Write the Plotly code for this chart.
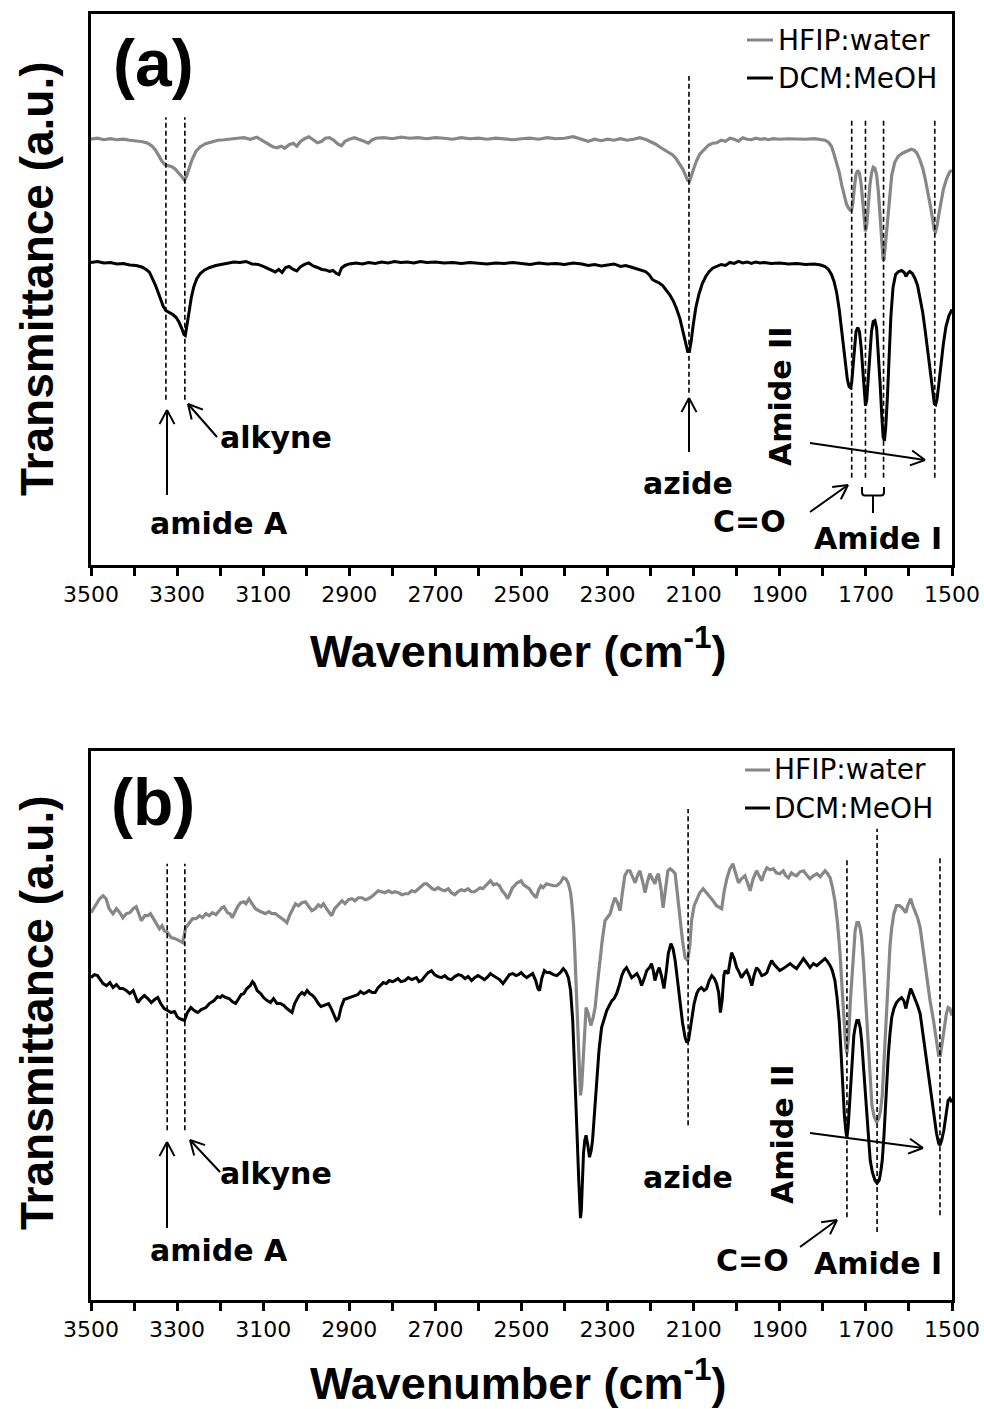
import math
import plotly.graph_objects as go

W, H = 984, 1409

# ---------------- data: panel (a) ----------------
a_hfip_wn = [3500,3485,3470,3455,3440,3425,3410,3395,3380,3368,3358,3350,3342,3335,3328,3320,3312,3304,3296,3289,3283,3278,3272,3265,3256,3246,3234,3220,3205,3190,3175,3160,3145,3130,3115,3100,3088,3078,3068,3058,3050,3040,3030,3022,3014,3004,2994,2984,2974,2964,2956,2946,2936,2926,2918,2910,2900,2888,2876,2866,2856,2848,2838,2820,2800,2780,2760,2740,2720,2700,2680,2660,2640,2620,2600,2580,2560,2540,2520,2500,2480,2460,2440,2420,2400,2380,2360,2345,2330,2315,2300,2285,2270,2255,2240,2225,2210,2198,2188,2178,2168,2158,2148,2140,2132,2125,2119,2114,2110,2106,2101,2094,2086,2076,2066,2056,2046,2036,2026,2016,2006,1996,1986,1976,1966,1956,1946,1936,1926,1916,1900,1880,1860,1840,1820,1805,1795,1787,1780,1774,1768,1762,1756,1750,1745,1740,1736,1733,1730,1727,1723,1719,1715,1711,1707,1704,1701,1698,1695,1691,1687,1683,1679,1675,1671,1667,1663,1660,1658,1655,1651,1646,1640,1633,1625,1615,1605,1595,1588,1582,1575,1568,1562,1556,1550,1545,1541,1538,1535,1531,1526,1520,1513,1506,1500]
a_hfip_t = [85.0,85.2,84.9,85.1,84.9,85.0,84.8,84.7,84.5,84.2,83.6,82.8,81.6,80.6,79.9,79.7,79.5,79.0,78.3,77.5,76.8,77.6,79.2,81.0,82.6,83.5,84.1,84.5,84.8,84.9,85.1,85.2,85.3,85.0,85.4,84.6,84.0,83.5,83.3,83.6,83.2,83.9,84.2,83.6,84.5,85.1,85.5,84.8,84.3,84.6,85.2,85.3,84.8,84.0,83.7,84.6,85.0,85.3,85.0,84.6,84.2,84.8,85.2,85.3,85.1,85.4,85.2,85.3,85.1,85.3,85.2,85.0,85.3,85.1,85.2,85.0,85.2,85.1,84.9,85.1,85.2,85.0,85.3,85.1,85.2,85.5,84.9,84.6,85.0,84.7,85.0,84.8,85.1,84.8,85.0,85.3,84.9,84.4,84.0,83.4,82.9,82.4,81.8,81.0,80.0,79.0,77.8,76.8,76.6,77.6,78.8,80.6,82.0,83.0,83.8,84.2,84.3,84.8,84.6,85.2,85.0,84.6,85.3,85.0,84.9,85.2,85.0,85.1,84.9,85.1,85.0,85.1,85.0,85.0,85.1,84.9,84.8,84.4,83.6,82.0,80.4,78.4,75.8,73.6,72.0,71.2,70.8,70.9,72.4,75.2,78.0,78.8,78.2,76.0,72.0,68.6,66.6,67.8,71.5,75.6,78.2,79.4,79.2,77.8,74.5,69.5,64.0,61.0,60.8,63.6,67.5,73.5,77.8,80.4,81.6,82.2,82.6,83.0,82.8,82.3,81.0,79.2,77.0,74.6,71.6,69.0,66.8,66.6,67.6,69.8,72.6,75.0,77.0,78.4,78.8]

a_dcm_wn = [3500,3485,3470,3455,3440,3425,3410,3395,3382,3372,3364,3357,3350,3344,3338,3332,3326,3318,3310,3302,3295,3289,3284,3281,3277,3272,3267,3261,3254,3246,3236,3224,3210,3196,3182,3168,3154,3140,3126,3112,3100,3090,3080,3072,3064,3056,3048,3040,3030,3022,3014,3004,2994,2984,2974,2964,2955,2946,2938,2930,2924,2918,2910,2900,2885,2870,2855,2840,2825,2810,2795,2780,2765,2750,2735,2720,2700,2680,2660,2640,2620,2600,2580,2560,2540,2520,2500,2480,2460,2440,2420,2400,2380,2360,2345,2330,2315,2300,2285,2270,2258,2246,2234,2222,2212,2203,2196,2188,2180,2172,2164,2156,2148,2140,2132,2125,2119,2114,2110,2106,2101,2095,2088,2080,2072,2064,2055,2046,2036,2026,2016,2006,1996,1986,1976,1966,1956,1946,1936,1920,1900,1880,1860,1840,1820,1805,1795,1787,1780,1774,1768,1762,1757,1752,1747,1743,1739,1736,1733,1730,1727,1723,1719,1715,1711,1707,1704,1701,1698,1695,1691,1687,1683,1679,1675,1671,1667,1663,1660,1657,1654,1650,1646,1642,1637,1631,1624,1617,1611,1607,1603,1598,1592,1586,1580,1574,1568,1562,1556,1550,1545,1541,1538,1535,1531,1526,1520,1514,1507,1500]
a_dcm_t = [60.4,60.6,60.3,60.4,60.1,60.2,59.9,59.8,59.5,59.0,58.4,57.2,55.8,54.4,52.8,51.6,50.8,50.4,50.0,49.4,48.4,47.2,46.0,45.8,47.6,50.6,53.4,55.6,57.2,58.2,58.9,59.4,59.8,60.0,60.2,60.5,60.4,60.6,60.1,60.0,59.6,59.2,58.7,58.5,59.0,58.4,59.4,59.6,59.0,58.7,59.5,60.0,60.3,59.7,59.4,59.0,58.9,58.6,58.8,58.2,58.0,59.3,59.8,60.1,60.3,60.1,60.4,60.2,60.5,60.3,60.6,60.4,60.5,60.3,60.6,60.4,60.5,60.3,60.4,60.2,60.4,60.3,60.1,60.3,60.2,60.4,60.2,60.0,60.3,60.1,60.2,60.0,60.3,60.1,59.8,60.0,59.7,59.9,60.1,59.6,59.8,59.5,59.2,58.9,58.6,57.9,57.0,56.6,56.3,55.8,55.0,54.0,52.8,51.2,49.2,46.8,44.2,42.6,42.6,44.6,48.0,51.4,54.0,56.2,57.6,58.6,59.3,59.6,60.0,59.8,60.4,60.2,60.6,60.3,60.5,60.2,60.5,60.3,60.4,60.2,60.3,60.1,60.2,60.0,60.1,59.9,59.6,59.0,58.0,56.6,54.4,51.0,47.2,43.0,39.4,37.0,35.6,35.4,36.4,39.6,43.4,46.6,47.4,46.6,43.4,38.4,34.2,31.8,33.0,37.2,42.6,46.6,48.6,48.8,47.2,42.6,36.2,29.6,25.6,24.8,27.4,33.6,41.6,49.6,55.4,58.0,58.6,58.8,58.4,57.6,58.2,58.6,58.2,57.2,55.8,53.4,50.4,46.6,42.4,37.8,34.4,32.2,32.0,33.0,35.8,40.2,44.2,47.6,49.8,51.0]

# ---------------- data: panel (b) ----------------
b_hfip_wn = [3500,3490,3480,3472,3465,3458,3449,3441,3433,3426,3418,3410,3402,3395,3389,3383,3375,3368,3362,3356,3348,3341,3335,3330,3322,3314,3304,3295,3287,3280,3272,3264,3256,3248,3241,3233,3226,3218,3210,3202,3196,3191,3183,3177,3172,3164,3158,3152,3145,3140,3133,3126,3118,3110,3102,3095,3087,3080,3072,3064,3056,3050,3045,3038,3032,3025,3018,3010,3002,2995,2987,2979,2972,2966,2960,2953,2947,2941,2934,2927,2921,2917,2910,2902,2894,2887,2879,2871,2863,2856,2848,2840,2833,2825,2817,2809,2801,2794,2786,2778,2770,2763,2755,2747,2740,2732,2726,2720,2713,2707,2701,2694,2686,2678,2670,2663,2655,2648,2640,2632,2624,2617,2609,2602,2596,2590,2583,2577,2572,2565,2558,2551,2545,2539,2532,2526,2521,2516,2510,2505,2501,2495,2489,2482,2476,2470,2466,2460,2455,2450,2442,2434,2426,2418,2410,2403,2397,2391,2386,2383,2379,2376,2372,2368,2365,2363,2360,2356,2353,2350,2345,2339,2334,2329,2324,2318,2312,2306,2300,2294,2289,2283,2277,2271,2266,2260,2254,2248,2242,2236,2230,2225,2219,2213,2208,2202,2196,2190,2186,2182,2176,2171,2166,2160,2155,2149,2143,2138,2132,2126,2120,2114,2109,2105,2099,2093,2086,2078,2070,2062,2055,2047,2041,2035,2029,2023,2016,2009,2003,1996,1989,1981,1975,1969,1962,1954,1948,1942,1936,1930,1923,1915,1908,1900,1892,1886,1880,1873,1867,1861,1853,1845,1838,1830,1822,1814,1806,1800,1795,1789,1783,1778,1772,1766,1760,1755,1751,1747,1744,1740,1736,1733,1729,1725,1721,1717,1713,1710,1706,1702,1698,1694,1690,1686,1681,1675,1670,1666,1662,1658,1655,1652,1648,1644,1640,1635,1629,1622,1616,1611,1607,1603,1599,1596,1591,1586,1580,1574,1567,1559,1551,1543,1536,1531,1527,1522,1518,1513,1509,1505,1500]
b_hfip_t = [77.6,79.0,80.4,81.0,80.4,78.4,77.4,78.4,77.6,76.6,77.4,77.6,78.4,78.8,77.2,76.0,77.0,77.0,77.4,76.6,75.6,74.4,75.0,74.0,73.6,72.6,72.4,72.0,71.6,74.6,75.6,76.4,76.4,77.0,76.6,77.4,77.0,77.6,77.2,78.0,78.6,78.8,77.6,77.4,76.6,78.0,79.0,79.6,79.8,79.4,80.4,79.4,78.4,78.0,77.6,77.4,77.8,77.4,77.4,76.8,76.4,76.0,75.6,77.2,78.4,79.4,79.0,79.6,79.8,79.0,78.0,78.4,79.2,78.8,79.4,78.4,77.6,77.0,78.4,79.0,79.6,80.0,79.4,80.2,80.4,80.0,80.6,80.6,80.2,80.4,80.8,81.4,82.0,81.8,81.6,82.0,81.6,81.8,81.6,81.2,81.4,81.4,82.0,81.8,82.4,83.0,83.4,83.4,82.8,82.4,82.2,82.6,82.2,82.0,82.4,81.6,81.2,81.8,82.2,82.0,82.4,81.8,81.8,82.2,82.6,82.4,83.0,83.6,84.0,83.2,83.4,83.0,82.0,81.4,80.4,81.6,82.6,83.0,83.6,83.8,84.0,83.2,82.8,82.4,81.6,81.0,80.6,82.2,83.0,82.6,83.4,83.2,83.0,83.0,83.6,84.6,84.4,83.4,81.6,79.4,75.0,69.4,61.0,52.6,45.0,41.0,43.0,49.4,55.0,58.6,57.4,55.0,56.4,58.6,63.0,68.0,72.4,76.0,76.8,77.4,79.0,80.6,79.6,78.0,81.4,85.0,86.0,86.0,84.8,83.6,85.2,86.0,84.0,81.6,83.6,85.4,84.4,83.4,84.8,85.4,82.4,78.6,82.0,86.0,86.4,86.0,85.4,81.0,76.0,72.0,68.6,68.0,71.0,76.0,79.0,80.4,81.6,82.4,81.6,80.6,80.0,79.0,78.6,78.4,82.0,84.4,86.4,87.4,85.6,83.6,84.4,85.0,83.6,82.0,84.4,86.0,85.0,84.0,85.6,86.6,86.2,86.4,85.6,85.4,86.0,85.0,84.6,85.6,85.2,85.0,85.8,86.0,85.2,84.4,85.0,85.4,84.8,85.6,86.0,85.4,84.6,82.8,80.0,75.6,69.4,62.0,56.0,51.0,49.4,53.0,60.0,64.0,70.0,74.0,75.6,75.6,74.4,72.6,68.0,62.0,56.0,49.0,43.0,39.0,36.8,35.6,36.4,38.0,41.0,48.0,54.0,59.4,66.0,71.0,74.6,77.4,79.0,79.0,78.6,78.0,77.6,79.0,80.0,80.4,79.0,78.0,76.6,74.6,70.0,64.6,60.0,56.0,52.0,49.0,49.0,52.0,54.6,57.4,58.6,58.4,57.0]

b_dcm_wn = [3500,3492,3485,3478,3472,3464,3456,3449,3441,3433,3426,3418,3410,3402,3396,3391,3384,3376,3368,3360,3352,3345,3338,3330,3322,3314,3306,3300,3295,3289,3283,3276,3268,3260,3252,3244,3238,3233,3225,3219,3214,3206,3200,3195,3187,3179,3172,3164,3157,3151,3145,3138,3130,3125,3121,3114,3106,3099,3091,3083,3076,3068,3060,3052,3045,3038,3033,3027,3021,3017,3010,3004,2998,2992,2985,2979,2972,2966,2960,2954,2948,2942,2936,2930,2925,2919,2912,2906,2900,2893,2887,2880,2874,2867,2861,2854,2847,2840,2833,2826,2821,2814,2807,2800,2794,2787,2780,2771,2763,2755,2748,2744,2738,2732,2725,2717,2709,2702,2694,2686,2678,2671,2663,2655,2647,2639,2631,2624,2616,2609,2601,2593,2586,2578,2572,2566,2558,2551,2543,2535,2528,2520,2513,2507,2501,2494,2488,2481,2474,2467,2462,2458,2453,2447,2441,2434,2426,2418,2410,2403,2397,2391,2386,2381,2377,2373,2370,2367,2365,2363,2361,2359,2356,2353,2350,2346,2342,2338,2335,2330,2325,2320,2314,2308,2302,2296,2290,2285,2279,2273,2267,2262,2256,2250,2244,2238,2232,2226,2221,2215,2209,2203,2198,2194,2190,2185,2180,2175,2169,2164,2159,2153,2148,2143,2138,2132,2126,2120,2116,2112,2108,2105,2099,2093,2088,2082,2076,2070,2064,2058,2052,2047,2042,2038,2034,2030,2027,2020,2016,2012,2006,2000,1994,1989,1983,1977,1971,1965,1960,1954,1948,1942,1936,1930,1925,1919,1913,1907,1900,1892,1884,1876,1868,1861,1853,1845,1838,1830,1822,1814,1806,1800,1795,1789,1783,1778,1772,1767,1762,1758,1754,1750,1746,1744,1741,1738,1735,1731,1728,1725,1721,1717,1713,1710,1706,1702,1699,1695,1690,1685,1679,1674,1669,1665,1662,1658,1655,1652,1648,1644,1640,1635,1629,1623,1617,1612,1607,1602,1596,1591,1586,1580,1574,1567,1559,1551,1543,1536,1531,1528,1524,1519,1514,1509,1505,1502,1500]
b_dcm_t = [64.6,65.2,65.0,64.0,63.4,63.0,63.6,62.6,63.2,62.4,62.4,62.0,61.4,62.0,60.6,59.6,60.4,61.0,60.4,59.6,60.2,60.6,59.4,58.4,58.0,57.6,57.8,56.8,56.4,56.2,56.0,57.6,58.6,58.0,57.6,58.2,58.4,58.6,59.4,59.8,60.0,60.8,60.6,61.0,60.6,60.4,59.8,59.4,60.4,61.2,61.4,62.4,63.0,63.8,63.4,62.0,61.4,60.6,60.0,59.6,60.4,59.4,59.4,59.0,58.4,58.0,57.6,59.4,60.4,61.0,61.6,61.2,62.0,61.4,61.0,60.4,59.4,58.8,59.0,59.2,59.4,58.4,57.2,56.0,56.4,58.6,60.2,60.4,60.6,60.8,61.0,61.2,61.8,61.4,61.6,62.0,61.6,61.6,62.6,63.2,63.6,63.4,64.0,63.8,64.0,64.4,63.8,64.0,64.6,64.2,64.4,64.6,63.8,64.0,64.8,65.6,66.0,65.2,64.8,64.6,65.0,64.4,64.2,64.8,65.2,65.0,64.4,64.8,64.0,64.6,65.0,64.6,64.2,64.8,65.4,65.0,64.6,64.2,63.4,64.4,65.2,65.4,65.0,65.2,65.6,65.0,64.6,65.0,65.4,64.0,62.4,62.0,64.4,66.0,65.6,65.6,65.2,65.0,65.6,66.4,65.8,64.6,62.0,56.0,48.0,39.4,31.0,24.0,19.0,16.4,18.0,23.0,29.4,32.0,33.0,31.0,28.6,30.0,32.0,38.0,44.6,50.0,54.6,56.4,58.0,59.0,60.0,60.4,61.4,63.0,65.0,66.0,66.6,65.6,64.6,65.0,65.4,64.4,63.0,64.4,66.0,66.6,67.4,66.0,64.0,65.6,66.6,65.0,62.4,65.6,69.4,71.4,70.4,68.0,64.0,59.4,55.6,52.6,51.6,52.0,54.0,56.0,59.4,61.4,62.2,62.6,62.0,62.4,64.0,65.0,64.4,63.4,61.6,57.6,60.0,65.0,66.0,65.4,67.6,69.6,68.4,66.6,65.6,64.6,65.4,66.0,64.8,63.0,65.0,66.6,66.0,65.0,65.2,65.6,66.8,68.0,67.2,66.6,66.0,66.4,67.0,67.4,66.8,66.4,67.4,68.4,67.6,66.6,67.4,67.0,67.6,68.0,68.4,67.8,67.0,66.0,64.0,60.6,56.0,50.0,42.6,37.0,33.4,32.6,35.0,39.0,42.6,49.0,53.0,54.6,56.0,56.0,54.4,52.0,47.0,42.0,38.0,33.0,28.0,25.6,24.0,23.4,24.0,26.0,28.0,33.0,38.0,42.6,49.0,53.4,56.6,58.4,59.6,60.2,60.6,60.0,58.4,60.4,62.4,61.4,60.4,59.0,57.4,53.0,48.0,42.0,37.4,33.4,31.4,31.0,32.0,34.0,37.0,40.0,40.4,40.0,39.6]

# marked band positions (cm-1) and the span of their guide lines (a.u.)
a_marks_wn = [3326, 3282, 2111, 1733, 1701, 1659, 1540]
a_marks_top = [89.4, 89.4, 97.6, 89.2, 89.2, 89.2, 89.2]
a_marks_bot = [33.0, 33.0, 34.4, 17.4, 17.4, 17.4, 17.4]
b_marks_wn = [3323, 3282, 2113, 1744, 1674, 1528]
b_marks_top = [87.4, 87.4, 98.4, 88.6, 94.4, 89.0]
b_marks_bot = [34.0, 34.0, 35.0, 16.6, 13.6, 17.0]

tick_vals = [3500, 3300, 3100, 2900, 2700, 2500, 2300, 2100, 1900, 1700, 1500]
minor_vals = [3400, 3200, 3000, 2800, 2600, 2400, 2200, 2000, 1800, 1600]
series_names = ["HFIP:water", "DCM:MeOH"]
series_colors = ["#878787", "#000000"]

ARIAL = "Liberation Sans, Arial, sans-serif"
DEJAVU = "DejaVu Sans, Verdana, sans-serif"


def px(x):
    return x / W


def py(y):
    return 1 - y / H


fig = go.Figure()

panels = [
    ("x", "y", a_hfip_wn, a_hfip_t, a_dcm_wn, a_dcm_t),
    ("x2", "y2", b_hfip_wn, b_hfip_t, b_dcm_wn, b_dcm_t),
]
for xa, ya, gw, gt, bw, bt in panels:
    fig.add_trace(go.Scatter(x=gw, y=gt, mode="lines", name=series_names[0],
                             line=dict(color=series_colors[0], width=3.2),
                             xaxis=xa, yaxis=ya, showlegend=False))
    fig.add_trace(go.Scatter(x=bw, y=bt, mode="lines", name=series_names[1],
                             line=dict(color=series_colors[1], width=3),
                             xaxis=xa, yaxis=ya, showlegend=False))

shapes = []
for xr, yr, wns, tops, bots in [("x", "y", a_marks_wn, a_marks_top, a_marks_bot),
                                ("x2", "y2", b_marks_wn, b_marks_top, b_marks_bot)]:
    for w, t, b in zip(wns, tops, bots):
        shapes.append(dict(type="line", xref=xr, yref=yr, x0=w, x1=w, y0=b, y1=t,
                           line=dict(color="black", width=1.6, dash="5px,3px")))


def seg(x0, y0, x1, y1, width=2.0, color="black"):
    shapes.append(dict(type="line", xref="paper", yref="paper",
                       x0=px(x0), y0=py(y0), x1=px(x1), y1=py(y1),
                       line=dict(color=color, width=width)))


def arrow(x0, y0, x1, y1, L=16, ang=28):
    seg(x0, y0, x1, y1)
    dx, dy = x1 - x0, y1 - y0
    n = math.hypot(dx, dy)
    ux, uy = dx / n, dy / n
    for s in (1, -1):
        a = math.radians(ang) * s
        rx = ux * math.cos(a) - uy * math.sin(a)
        ry = ux * math.sin(a) + uy * math.cos(a)
        seg(x1, y1, x1 - L * rx, y1 - L * ry)


# arrows panel (a)
arrow(167, 495, 167, 410)
arrow(217, 437, 188, 404)
arrow(689, 452, 689, 398)
arrow(810, 512, 848, 485)
arrow(810, 443, 925, 460)
# arrows panel (b)
arrow(167, 1228, 167, 1142)
arrow(220, 1172, 190, 1140)
arrow(800, 1247, 837, 1220)
arrow(810, 1133, 923, 1148)

# amide I bracket in (a)
shapes.append(dict(type="path", xref="paper", yref="paper",
                   path=("M {0},{1} L {0},{2} Q {0},{3} {4},{3} L {5},{3} Q {6},{3} {6},{2} L {6},{1} "
                         "M {7},{8} L {7},{9}").format(
                       px(862), py(487), py(492), py(495.5), px(865), px(881), px(884),
                       px(873), py(495.5), py(513)),
                   line=dict(color="black", width=2)))

# legends (line samples)
for (lx0, lx1, y1, y2) in [(747, 773, 40, 78), (745, 770, 770, 808)]:
    seg(lx0, y1, lx1, y1, width=3, color=series_colors[0])
    seg(lx0, y2, lx1, y2, width=3, color=series_colors[1])

annotations = []


def text(t, x, y, size, family=DEJAVU, anchor="center", angle=0, color="black"):
    annotations.append(dict(text=t, x=px(x), y=py(y), xref="paper", yref="paper",
                            xanchor=anchor, yanchor="middle", showarrow=False,
                            textangle=angle, font=dict(size=size, family=family, color=color)))


for (lx, y1, y2) in [(776, 40, 78), (772, 770, 808)]:
    text(series_names[0], lx, y1, 28, anchor="left")
    text(series_names[1], lx, y2, 28, anchor="left")

text("<b>(a)</b>", 153, 63, 66, family=ARIAL)
text("<b>(b)</b>", 153, 802, 66, family=ARIAL)

# panel (a) labels
text("<b>amide A</b>", 219, 523, 30)
text("<b>alkyne</b>", 276, 438, 30)
text("<b>azide</b>", 688, 483, 30)
text("<b>C=O</b>", 749, 522, 30)
text("<b>Amide I</b>", 878, 538, 30)
text("<b>Amide II</b>", 780, 397, 30, angle=-90)
# panel (b) labels
text("<b>amide A</b>", 219, 1250, 30)
text("<b>alkyne</b>", 276, 1173, 30)
text("<b>azide</b>", 688, 1177, 30)
text("<b>C=O</b>", 752, 1260, 30)
text("<b>Amide I</b>", 878, 1263, 30)
text("<b>Amide II</b>", 782, 1135, 30, angle=-90)

# axis titles
for yc in (279, 1013):
    text("<b>Transmittance (a.u.)</b>", 37, yc, 46, family=ARIAL, angle=-90)
for yc in (648, 1380):
    text("<b>Wavenumber (cm<sup>-1</sup>)</b>", 518, yc, 45, family=ARIAL)

xdom = [91 / W, 952 / W]
common_x = dict(range=[3500, 1500], showline=True, linewidth=3, linecolor="black", mirror=True,
                ticks="outside", ticklen=8, tickwidth=2.5, tickcolor="black",
                tickmode="array", tickvals=tick_vals, ticktext=[str(v) for v in tick_vals],
                tickfont=dict(family=DEJAVU, size=22, color="black"),
                minor=dict(tickmode="array", tickvals=minor_vals, ticks="outside", ticklen=8,
                           tickwidth=2.5, tickcolor="black", showgrid=False),
                showgrid=False, zeroline=False, domain=xdom, automargin=False)
common_y = dict(range=[0, 110], showline=True, linewidth=3, linecolor="black", mirror=True,
                ticks="", showticklabels=False, showgrid=False, zeroline=False, automargin=False)

fig.update_layout(
    width=W, height=H, margin=dict(l=0, r=0, t=0, b=0, pad=0, autoexpand=False),
    paper_bgcolor="white", plot_bgcolor="white", showlegend=False,
    xaxis=dict(common_x, anchor="y"),
    yaxis=dict(common_y, anchor="x", domain=[1 - 565 / H, 1 - 14 / H]),
    xaxis2=dict(common_x, anchor="y2"),
    yaxis2=dict(common_y, anchor="x2", domain=[1 - 1300 / H, 1 - 751 / H]),
    shapes=shapes, annotations=annotations,
)

fig.write_html("out.html")
